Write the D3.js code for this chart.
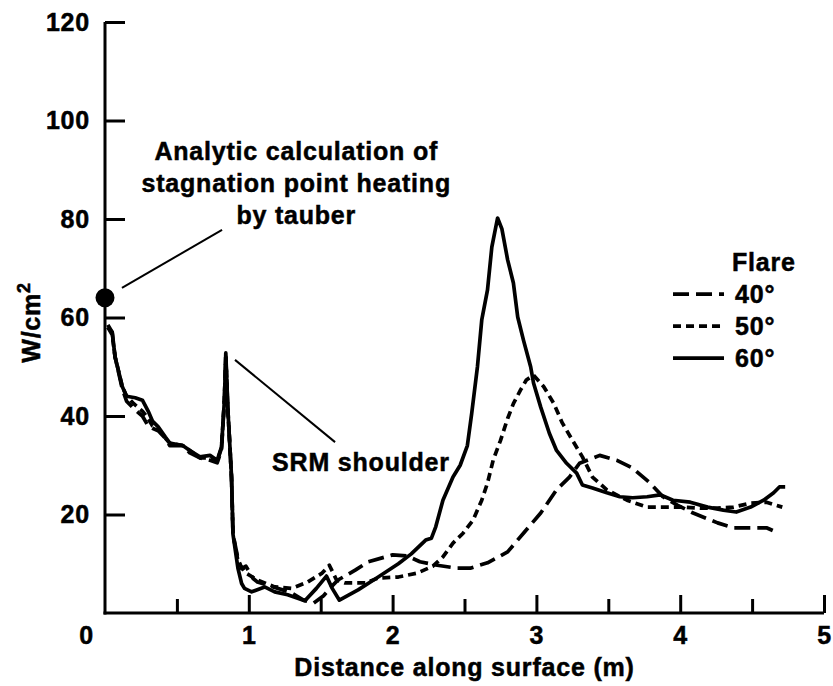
<!DOCTYPE html>
<html>
<head>
<meta charset="utf-8">
<script src="https://cdn.jsdelivr.net/npm/d3@7"></script>
<style>
  html, body { margin: 0; padding: 0; background: #fff; }
  svg text { font-family: "Liberation Sans", Arial, Helvetica, sans-serif; font-weight: bold; fill: #000; letter-spacing: 0.8px; stroke: #000; stroke-width: 0.5px; }
</style>
</head>
<body>
<svg id="chart" width="833" height="686"></svg>
<script>
// ---- data ----
const xTicks = [0, 1, 2, 3, 4, 5];
const xMinorTicks = [0.5, 1.5, 2.5, 3.5, 4.5];
const yTicks = [20, 40, 60, 80, 100, 120];

const seriesNames = ["40°", "50°", "60°"];

const flare40 = [[0.02,58],[0.05,57],[0.07,52],[0.12,45.5],[0.15,43],[0.2,41.5],[0.26,40],[0.30,38],[0.33,37.5],[0.37,37],[0.42,35.5],[0.45,34],[0.54,34],[0.59,32.5],[0.66,31.5],[0.73,31],[0.78,30.5],[0.81,33],[0.83,43],[0.84,52],[0.855,41],[0.87,33],[0.88,27],[0.89,16],[0.925,11],[0.95,9],[0.98,9.5],[1.03,7],[1.06,6.3],[1.17,5.3],[1.29,4.2],[1.38,2.6],[1.45,2],[1.52,3.5],[1.58,5.5],[1.62,6.7],[1.74,8.7],[1.83,10.4],[2.0,11.8],[2.1,11.6],[2.19,10.4],[2.31,9.7],[2.45,9.1],[2.54,9.1],[2.66,10.2],[2.80,12.4],[2.91,16.2],[3.03,20.3],[3.14,25],[3.23,27.6],[3.30,30.4],[3.44,32],[3.56,31],[3.67,29.4],[3.79,26.4],[3.88,23.6],[3.98,21.9],[4.09,20.3],[4.26,18.3],[4.37,17.3],[4.49,17.3],[4.60,17.3],[4.67,16.4]];

const flare50 = [[0.02,58],[0.05,56.5],[0.07,52],[0.12,46],[0.15,44],[0.2,42.5],[0.26,41],[0.30,39.5],[0.33,38],[0.37,37.5],[0.42,35.5],[0.45,34.5],[0.54,34],[0.59,33],[0.66,31.5],[0.73,31.5],[0.78,30.8],[0.81,33.5],[0.83,43],[0.84,52.5],[0.855,41],[0.87,33],[0.88,27.6],[0.89,16],[0.925,10.5],[0.95,9.3],[0.98,8.1],[1.06,6.7],[1.18,5.3],[1.30,5],[1.41,6.3],[1.51,8.1],[1.56,9.7],[1.61,6.7],[1.67,6.1],[1.81,6.1],[1.90,7.1],[2.04,7.3],[2.17,8.1],[2.28,9.5],[2.35,11.4],[2.42,14.2],[2.49,16.2],[2.56,18.9],[2.62,22.9],[2.66,26.4],[2.70,31.1],[2.75,35],[2.80,39.5],[2.84,42.5],[2.89,45.3],[2.93,47.3],[2.98,48.3],[3.05,46],[3.12,42.6],[3.18,38.6],[3.25,35.1],[3.32,31.7],[3.39,27.6],[3.49,25],[3.63,22.9],[3.77,21.5],[3.91,21.5],[4.02,21.5],[4.14,21.3],[4.26,21.3],[4.37,21.5],[4.49,22.3],[4.60,22.5],[4.71,21.5]];

const flare60 = [[0.02,58.5],[0.05,57],[0.07,52],[0.12,46],[0.15,44],[0.21,43.7],[0.26,43.2],[0.30,41],[0.33,39],[0.37,37.8],[0.42,35.7],[0.45,34.5],[0.54,34],[0.59,33],[0.66,31.7],[0.73,32],[0.78,31],[0.81,33.7],[0.83,43],[0.84,52.8],[0.855,41],[0.87,33],[0.88,27.6],[0.89,16],[0.925,9],[0.95,6],[0.97,5],[1.02,4.3],[1.11,5.3],[1.18,4.3],[1.27,3.7],[1.39,2.5],[1.47,5],[1.54,7.5],[1.58,5],[1.63,2.6],[1.76,4.7],[1.90,7.3],[2.04,10],[2.13,12],[2.23,14.8],[2.27,15.2],[2.30,17.5],[2.35,22.9],[2.42,27.6],[2.47,30],[2.52,34],[2.55,40.5],[2.59,50],[2.62,59.5],[2.66,65.6],[2.69,74.3],[2.73,80.2],[2.76,78],[2.80,71.7],[2.84,67],[2.87,60.1],[2.91,55.4],[2.96,50],[2.98,46.7],[3.03,41.8],[3.09,36.5],[3.14,33],[3.21,30.4],[3.28,28.4],[3.32,26],[3.39,25.4],[3.49,24.4],[3.58,23.6],[3.67,23.4],[3.77,23.6],[3.86,24],[3.95,22.9],[4.07,22.5],[4.19,21.5],[4.30,20.9],[4.39,20.5],[4.49,21.5],[4.58,22.9],[4.65,24.4],[4.69,25.6],[4.73,25.6]];

const stagnationPoint = [0, 64];
const annotationLines = ["Analytic calculation of", "stagnation point heating", "by tauber"];
const srmLabel = "SRM shoulder";

// ---- drawing ----
const svg = d3.select("#chart");
const x = d3.scaleLinear().domain([0, 5]).range([105, 824]);
const y = d3.scaleLinear().domain([0, 120]).range([613, 22]);

const dashes = { "40°": "16,7", "50°": "8,5", "60°": null };
const seriesData = { "40°": flare40, "50°": flare50, "60°": flare60 };

// axes
const xAxis = svg.append("g").attr("transform", `translate(0,${y(0)})`)
  .call(d3.axisBottom(x).tickValues(xTicks).tickSize(-18).tickSizeOuter(0).tickPadding(13).tickFormat(d3.format("d")));
const xMinor = svg.append("g").attr("transform", `translate(0,${y(0)})`)
  .call(d3.axisBottom(x).tickValues(xMinorTicks).tickSize(-14).tickSizeOuter(0).tickFormat(""));
xMinor.select(".domain").remove();
const yAxis = svg.append("g").attr("transform", `translate(${x(0)},0)`)
  .call(d3.axisLeft(y).tickValues(yTicks).tickSize(-20).tickSizeOuter(0).tickPadding(15));

[xAxis, xMinor, yAxis].forEach(g => {
  g.selectAll("path, line").attr("stroke", "#000").attr("stroke-width", 3);
  g.selectAll("text").style("font-size", "25px").attr("fill", "#000");
});
yAxis.select(".domain").attr("d", `M0,${y(0) + 1.5}V${y(120)}`);
xAxis.select(".domain").attr("d", `M${x(0) - 1.5},0H${x(5)}`);
xAxis.selectAll(".tick text").attr("font-family", null);
yAxis.selectAll(".tick text").attr("font-family", null);
xAxis.selectAll(".tick").filter(d => d === 0).select("text").attr("dx", -19);
xAxis.selectAll(".tick").filter(d => d === 0).select("line").remove();

// axis titles
svg.append("text")
  .attr("x", (x(0) + x(5)) / 2).attr("y", 676)
  .attr("text-anchor", "middle").style("font-size", "25px")
  .text("Distance along surface (m)");

const yt = svg.append("text")
  .attr("transform", `translate(40,${y(59)}) rotate(-90)`)
  .attr("text-anchor", "middle").style("font-size", "25px");
yt.append("tspan").text("W/cm");
yt.append("tspan").attr("dy", -10).style("font-size", "18px").text("2");

// lines
const line = d3.line().x(d => x(d[0])).y(d => y(d[1]));
seriesNames.forEach(name => {
  svg.append("path")
    .datum(seriesData[name])
    .attr("fill", "none")
    .attr("stroke", "#000")
    .attr("stroke-width", 3.7)
    .attr("stroke-linejoin", "round")
    .attr("stroke-dasharray", dashes[name])
    .attr("d", line);
});

// stagnation point marker
svg.append("circle")
  .attr("cx", x(stagnationPoint[0])).attr("cy", y(stagnationPoint[1]))
  .attr("r", 9.5).attr("fill", "#000");

// annotation: stagnation
svg.append("line")
  .attr("x1", x(0.118)).attr("y1", y(66))
  .attr("x2", x(0.814)).attr("y2", y(77.8))
  .attr("stroke", "#000").attr("stroke-width", 2);
annotationLines.forEach((t, i) => {
  svg.append("text")
    .attr("x", x(1.33)).attr("y", y(92.0) + i * 32)
    .attr("text-anchor", "middle").style("font-size", "25px")
    .text(t);
});

// annotation: SRM shoulder
svg.append("line")
  .attr("x1", x(0.904)).attr("y1", y(51.4))
  .attr("x2", x(1.6)).attr("y2", y(34.7))
  .attr("stroke", "#000").attr("stroke-width", 2);
svg.append("text")
  .attr("x", x(1.162)).attr("y", y(28.8))
  .style("font-size", "25px")
  .text(srmLabel);

// legend
const lg = svg.append("g").attr("transform", `translate(${x(3.95)},${y(69.4)})`);
lg.append("text").attr("x", 59).attr("y", 0).style("font-size", "25px").text("Flare");
seriesNames.forEach((name, i) => {
  const yy = 32 + i * 32;
  lg.append("line")
    .attr("x1", 0).attr("x2", 51)
    .attr("y1", yy - 9).attr("y2", yy - 9)
    .attr("stroke", "#000").attr("stroke-width", 3.7)
    .attr("stroke-dasharray", dashes[name]);
  lg.append("text").attr("x", 62).attr("y", yy).style("font-size", "25px").text(name);
});
</script>
</body>
</html>
